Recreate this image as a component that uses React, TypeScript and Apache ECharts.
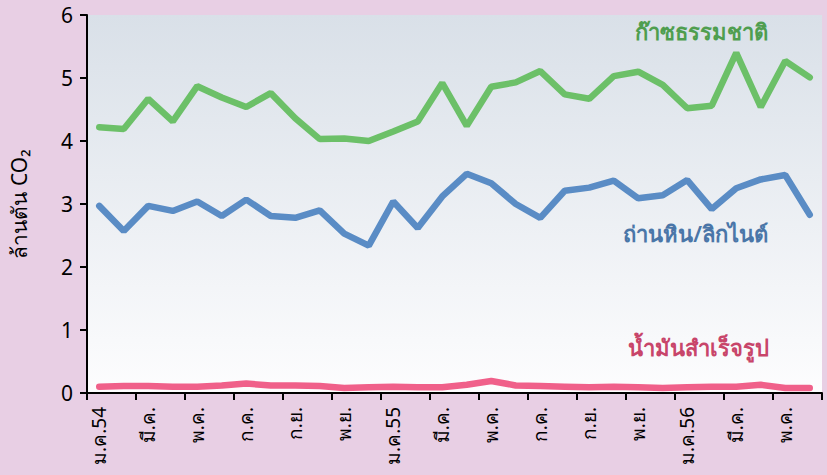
import React, { useEffect, useRef } from "react";
import * as echarts from "echarts";

const categories = [
  "ม.ค.54", "ก.พ.", "มี.ค.", "เม.ย.", "พ.ค.", "มิ.ย.", "ก.ค.", "ส.ค.", "ก.ย.", "ต.ค.", "พ.ย.", "ธ.ค.",
  "ม.ค.55", "ก.พ.", "มี.ค.", "เม.ย.", "พ.ค.", "มิ.ย.", "ก.ค.", "ส.ค.", "ก.ย.", "ต.ค.", "พ.ย.", "ธ.ค.",
  "ม.ค.56", "ก.พ.", "มี.ค.", "เม.ย.", "พ.ค.", "มิ.ย.",
];

const naturalGas = [
  4.22, 4.19, 4.67, 4.31, 4.87, 4.69, 4.54, 4.76, 4.36, 4.03, 4.04, 4.0,
  4.15, 4.31, 4.92, 4.24, 4.86, 4.93, 5.11, 4.74, 4.67, 5.03, 5.1, 4.89,
  4.52, 4.56, 5.4, 4.54, 5.27, 5.01,
];

const coalLignite = [
  2.97, 2.57, 2.97, 2.89, 3.04, 2.81, 3.07, 2.81, 2.78, 2.9, 2.53, 2.34,
  3.04, 2.62, 3.12, 3.48, 3.33, 3.0, 2.78, 3.21, 3.26, 3.37, 3.09, 3.14,
  3.38, 2.92, 3.25, 3.39, 3.46, 2.83,
];

const refinedOil = [
  0.1, 0.11, 0.11, 0.1, 0.1, 0.12, 0.15, 0.12, 0.12, 0.11, 0.08, 0.09,
  0.1, 0.09, 0.09, 0.13, 0.19, 0.12, 0.11, 0.1, 0.09, 0.1, 0.09, 0.08,
  0.09, 0.1, 0.1, 0.13, 0.08, 0.08,
];

const seriesNames = ["ก๊าซธรรมชาติ", "ถ่านหิน/ลิกไนต์", "น้ำมันสำเร็จรูป"];
const yTitle = "ล้านตัน CO₂";

const FONT = "'Noto Sans', 'DejaVu Sans', sans-serif";

export default function App() {
  const ref = useRef<HTMLDivElement>(null);
  useEffect(() => {
    if (!ref.current) return;
    const chart = echarts.init(ref.current, undefined, { renderer: "svg" });
    chart.setOption({
      animation: false,
      backgroundColor: "#e8cfe4",
      textStyle: { fontFamily: FONT },
      grid: {
        left: 87,
        right: 5,
        top: 15,
        bottom: 82,
        show: true,
        borderWidth: 0,
        backgroundColor: new echarts.graphic.LinearGradient(0, 0, 0, 1, [
          { offset: 0, color: "#d9e0e8" },
          { offset: 1, color: "#fdfdfe" },
        ]),
      },
      xAxis: {
        type: "category",
        data: categories,
        boundaryGap: true,
        axisLine: { show: true, lineStyle: { color: "#000", width: 2 } },
        axisTick: { show: true, interval: 1, length: 7, lineStyle: { color: "#000", width: 2 } },
        axisLabel: {
          interval: 1,
          rotate: 90,
          color: "#000",
          fontSize: 19,
          fontFamily: FONT,
          margin: 14,
        },
        splitLine: { show: false },
      },
      yAxis: {
        type: "value",
        min: 0,
        max: 6,
        interval: 1,
        name: yTitle,
        nameLocation: "middle",
        nameGap: 58,
        nameRotate: 90,
        nameTextStyle: { color: "#000", fontSize: 21, fontFamily: FONT },
        axisLine: { show: true, lineStyle: { color: "#000", width: 2 } },
        axisTick: { show: true, length: 7, lineStyle: { color: "#000", width: 2 } },
        axisLabel: { color: "#000", fontSize: 21, fontFamily: FONT, margin: 14 },
        splitLine: { show: false },
      },
      series: [
        {
          name: seriesNames[0],
          type: "line",
          data: naturalGas,
          symbol: "none",
          lineStyle: { color: "#6cc068", width: 6.5, cap: "round" },
        },
        {
          name: seriesNames[1],
          type: "line",
          data: coalLignite,
          symbol: "none",
          lineStyle: { color: "#5a8cc5", width: 6.5, cap: "round" },
        },
        {
          name: seriesNames[2],
          type: "line",
          data: refinedOil,
          symbol: "none",
          lineStyle: { color: "#f0608a", width: 6.5, cap: "round" },
        },
      ],
      graphic: [
        {
          type: "text",
          right: 827 - 768,
          top: 20,
          style: { text: seriesNames[0], fill: "#4f9e4f", fontSize: 22, fontWeight: 600, fontFamily: FONT },
        },
        {
          type: "text",
          right: 827 - 768,
          top: 222,
          style: { text: seriesNames[1], fill: "#4a76a8", fontSize: 22, fontWeight: 600, fontFamily: FONT },
        },
        {
          type: "text",
          right: 827 - 769,
          top: 336,
          style: { text: seriesNames[2], fill: "#c8456a", fontSize: 22, fontWeight: 600, fontFamily: FONT },
        },
      ],
    });
    return () => chart.dispose();
  }, []);
  return <div ref={ref} style={{ position: "fixed", left: 0, top: 0, width: 827, height: 475 }} />;
}
